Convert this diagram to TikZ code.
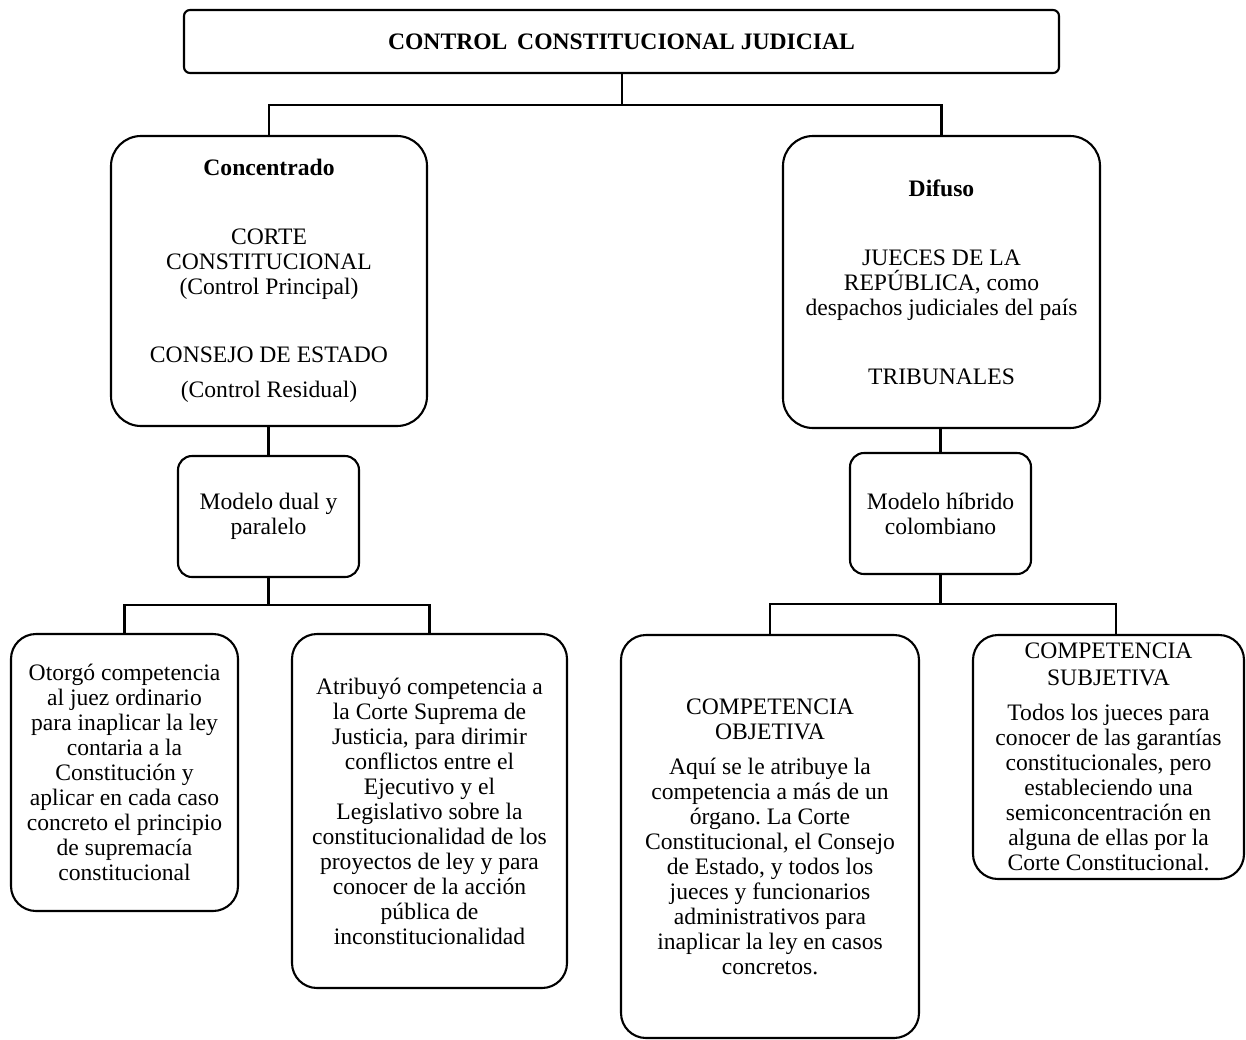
\documentclass[tikz,border=0pt]{standalone}
\usepackage{fontspec}
\setmainfont{Liberation Serif}
\frenchspacing
\begin{document}
\begin{tikzpicture}[x=1pt,y=-1pt,
  every node/.style={font=\fontsize{23.6}{25}\selectfont},
  box/.style={draw, line width=2.1pt, align=center, inner sep=0pt},
  conn/.style={line width=2.1pt}]
\useasboundingbox (0,0) rectangle (1246,1039);
\node[box, rounded corners=6pt, minimum width=875pt, minimum height=63pt, font=\fontsize{23.6}{25}\selectfont\bfseries] (title) at (621.5,41.5) {CONTROL\, CONSTITUCIONAL JUDICIAL};
\node[box, rounded corners=30pt, minimum width=316pt, minimum height=290pt] (conc) at (269,281)
 {\textbf{Concentrado}\\[44pt] CORTE\\ CONSTITUCIONAL\\ (Control Principal)\\[43pt] CONSEJO DE ESTADO\\[10pt] (Control Residual)};
\node[box, rounded corners=30pt, minimum width=317pt, minimum height=292pt] (dif) at (941.5,282)
 {\textbf{Difuso}\\[44pt] JUECES DE LA\\ REPÚBLICA, como\\ despachos judiciales del país\\[44pt] TRIBUNALES};
\node[box, rounded corners=14pt, minimum width=181pt, minimum height=121pt] (dual) at (268.5,516.5)
 {Modelo dual y\\ paralelo};
\node[box, rounded corners=14pt, minimum width=181pt, minimum height=121pt] (hib) at (940.5,513.5)
 {Modelo híbrido\\ colombiano};
\node[box, rounded corners=25pt, minimum width=227pt, minimum height=277pt] (b1) at (124.5,772.5)
 {Otorgó competencia\\ al juez ordinario\\ para inaplicar la ley\\ contaria a la\\ Constitución y\\ aplicar en cada caso\\ concreto el principio\\ de supremacía\\ constitucional};
\node[box, rounded corners=25pt, minimum width=275pt, minimum height=354pt] (b2) at (429.5,811)
 {Atribuyó competencia a\\ la Corte Suprema de\\ Justicia, para dirimir\\ conflictos entre el\\ Ejecutivo y el\\ Legislativo sobre la\\ constitucionalidad de los\\ proyectos de ley y para\\ conocer de la acción\\ pública de\\ inconstitucionalidad};
\node[box, rounded corners=25pt, minimum width=298pt, minimum height=403pt] (b3) at (770,836.5)
 {COMPETENCIA\\ OBJETIVA\\[10pt] Aquí se le atribuye la\\ competencia a más de un\\ órgano. La Corte\\ Constitucional, el Consejo\\ de Estado, y todos los\\ jueces y funcionarios\\ administrativos para\\ inaplicar la ley en casos\\ concretos.};
\node[box, rounded corners=25pt, minimum width=271pt, minimum height=244pt] (b4) at (1108.5,757)
 {COMPETENCIA\\[2pt] SUBJETIVA\\[10pt] Todos los jueces para\\ conocer de las garantías\\ constitucionales, pero\\ estableciendo una\\ semiconcentración en\\ alguna de ellas por la\\ Corte Constitucional.};
\coordinate (j1) at (622,105);
\coordinate (j2) at (268.5,605);
\coordinate (j3) at (940.5,604);
\coordinate (b4top) at (1116,635);
\draw[conn] (title.south -| j1) -- (j1);
\draw[conn] (conc.north) |- (j1) -| (dif.north);
\draw[conn] (conc.south -| dual.north) -- (dual.north);
\draw[conn] (dif.south -| hib.north) -- (hib.north);
\draw[conn] (dual.south) -- (j2);
\draw[conn] (b1.north) |- (j2) -| (b2.north);
\draw[conn] (hib.south) -- (j3);
\draw[conn] (b3.north) |- (j3) -| (b4top);
\end{tikzpicture}
\end{document}
